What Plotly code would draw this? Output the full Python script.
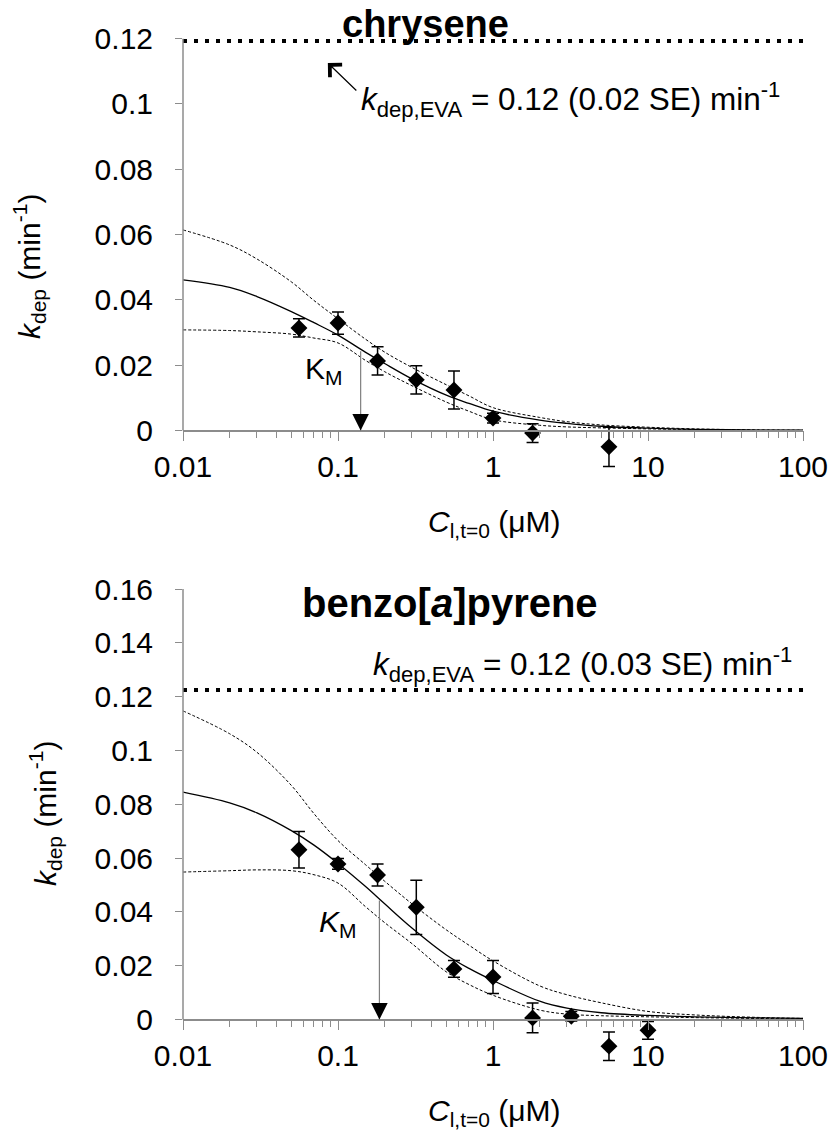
import math
import plotly.graph_objects as go

# ---------------- data: chrysene (top panel) ----------------
chr_conc = [0.056, 0.1, 0.18, 0.32, 0.56, 1.0, 1.8, 5.6]
chr_kdep = [0.0314, 0.0329, 0.0213, 0.0155, 0.0124, 0.0038, -0.0008, -0.0050]
chr_err = [0.0028, 0.0034, 0.0043, 0.0043, 0.0058, 0.0015, 0.0029, 0.0060]

fit_conc = [0.01, 0.02, 0.03, 0.05, 0.07, 0.1, 0.15, 0.2, 0.3, 0.5, 0.7, 1, 2, 3, 5, 10, 20, 50, 100]
chr_fit = [0.0461, 0.0438, 0.0410, 0.0364, 0.0330, 0.0292, 0.0240, 0.0205, 0.0158, 0.0108, 0.0083,
           0.0059, 0.0032, 0.0022, 0.0013, 0.0007, 0.00035, 0.00014, 0.00007]
chr_upper = [0.0614, 0.0568, 0.0525, 0.0455, 0.0398, 0.0342, 0.0280, 0.0240, 0.0193, 0.0140, 0.0106,
             0.0070, 0.0040, 0.0027, 0.0017, 0.0010, 0.0005, 0.0002, 0.0001]
chr_lower = [0.0308, 0.0306, 0.0302, 0.0295, 0.0283, 0.0268, 0.0215, 0.0180, 0.0137, 0.0087, 0.0059,
             0.0033, 0.0016, 0.0011, 0.0008, 0.0005, 0.0003, 0.0001, 0.00005]
chr_eva = 0.1192
chr_km = 0.14
chr_km_k = 0.0247

# ---------------- data: benzo[a]pyrene (bottom panel) ----------------
bap_conc = [0.056, 0.1, 0.18, 0.32, 0.56, 1.0, 1.8, 3.2, 5.6, 10]
bap_kdep = [0.0631, 0.0578, 0.0537, 0.0417, 0.0188, 0.0158, 0.0006, 0.0012, -0.0099, -0.0040]
bap_err = [0.0068, 0.0020, 0.0041, 0.0101, 0.0031, 0.0061, 0.0055, 0.0018, 0.0053, 0.0033]

bap_fit = [0.0845, 0.0805, 0.0768, 0.0702, 0.0648, 0.0580, 0.0495, 0.0430, 0.0340, 0.0240, 0.0190,
           0.0145, 0.0068, 0.0042, 0.0025, 0.0015, 0.0010, 0.0006, 0.0004]
bap_upper = [0.1147, 0.1062, 0.0993, 0.0870, 0.0765, 0.0665, 0.0576, 0.0514, 0.0430, 0.0333, 0.0276,
             0.0218, 0.0125, 0.0092, 0.0062, 0.0030, 0.0017, 0.0008, 0.0004]
bap_lower = [0.0548, 0.0553, 0.0556, 0.0553, 0.0538, 0.0507, 0.0420, 0.0360, 0.0282, 0.0177, 0.0130,
             0.0090, 0.0035, 0.0020, 0.0014, 0.0010, 0.0007, 0.0004, 0.0002]
bap_eva = 0.1225
bap_km = 0.185
bap_km_k = 0.0448

eva_span = [0.01, 100]

x_tickvals = [0.01, 0.1, 1, 10, 100]
x_ticktext = ["0.01", "0.1", "1", "10", "100"]
x_minor = [m * d for d in [0.01, 0.1, 1, 10] for m in range(2, 10)]
y1_tickvals = [0, 0.02, 0.04, 0.06, 0.08, 0.1, 0.12]
y1_ticktext = ["0", "0.02", "0.04", "0.06", "0.08", "0.1", "0.12"]
y2_tickvals = [0, 0.02, 0.04, 0.06, 0.08, 0.1, 0.12, 0.14, 0.16]
y2_ticktext = ["0", "0.02", "0.04", "0.06", "0.08", "0.1", "0.12", "0.14", "0.16"]

# ---------------- figure geometry (page pixels; the page body adds an 8px offset) ----------------
OFF = 8
W, H = 836 - OFF, 1132 - OFF
FONT = "Liberation Sans, Arial, sans-serif"
AXC = "#8c8c8c"


def fx(px):
    return (px - OFF) / W


def fy(py):
    return 1 - (py - OFF) / H


fig = go.Figure()


def add_panel(xa, ya, conc, kdep, err, fit, upper, lower, eva):
    for ys in (upper, lower):
        fig.add_trace(go.Scatter(x=fit_conc, y=ys, mode="lines", xaxis=xa, yaxis=ya,
                                 line=dict(color="black", width=1, dash="3px,2px", shape="spline"),
                                 showlegend=False, hoverinfo="skip"))
    fig.add_trace(go.Scatter(x=fit_conc, y=fit, mode="lines", xaxis=xa, yaxis=ya,
                             line=dict(color="black", width=1.3, shape="spline"),
                             showlegend=False, hoverinfo="skip"))
    fig.add_trace(go.Scatter(x=eva_span, y=[eva, eva], mode="lines", xaxis=xa, yaxis=ya,
                             line=dict(color="black", width=4, dash="4px,7px"),
                             showlegend=False, hoverinfo="skip"))
    fig.add_trace(go.Scatter(x=conc, y=kdep, mode="markers", xaxis=xa, yaxis=ya,
                             marker=dict(symbol="diamond", size=13, color="black"),
                             error_y=dict(type="data", array=err, color="black", thickness=1.5, width=6),
                             cliponaxis=False, showlegend=False))


add_panel("x", "y", chr_conc, chr_kdep, chr_err, chr_fit, chr_upper, chr_lower, chr_eva)
add_panel("x2", "y2", bap_conc, bap_kdep, bap_err, bap_fit, bap_upper, bap_lower, bap_eva)

# panel 1: value 0 at page y 430.5, 0.12 at 38.5 ; panel 2: 0 at 1019.5, 0.16 at 589
p1_zero, p1_top = 430.5, 38.5
p2_zero, p2_top = 1019.5, 589.0
y1_min, y2_min = -0.016, -0.018
p1_bot = p1_zero + (-y1_min) * (p1_zero - p1_top) / 0.12
p2_bot = p2_zero + (-y2_min) * (p2_zero - p2_top) / 0.16

xdom = [fx(183), fx(803)]
y1dom = [fy(p1_bot), fy(p1_top)]
y2dom = [fy(p2_bot), fy(p2_top)]

xcommon = dict(type="log", range=[-2, 2], showline=True, linecolor=AXC, linewidth=1.5,
               ticks="outside", ticklen=10, tickwidth=1.3, tickcolor=AXC,
               tickmode="array", tickvals=x_tickvals, ticktext=x_ticktext,
               minor=dict(tickmode="array", tickvals=x_minor, ticks="outside", ticklen=7,
                          tickwidth=1.3, tickcolor=AXC, showgrid=False),
               showgrid=False, zeroline=False, automargin=False, anchor="free",
               tickfont=dict(family=FONT, size=30, color="black"), ticklabelstandoff=0)
ycommon = dict(showline=False, ticks="outside", ticklen=7,
               tickwidth=1.3, tickcolor=AXC, showgrid=False, zeroline=False, automargin=False,
               tickmode="array", tickfont=dict(family=FONT, size=30, color="black"),
               ticklabelstandoff=16)

fig.update_layout(
    width=W, height=H, margin=dict(l=0, r=0, t=0, b=0),
    paper_bgcolor="white", plot_bgcolor="white",
    font=dict(family=FONT, color="black"),
    xaxis=dict(domain=xdom, position=fy(p1_zero), **xcommon),
    xaxis2=dict(domain=xdom, position=fy(p2_zero), **xcommon),
    yaxis=dict(domain=y1dom, anchor="x", range=[y1_min, 0.12], tickvals=y1_tickvals,
               ticktext=y1_ticktext, **ycommon),
    yaxis2=dict(domain=y2dom, anchor="x2", range=[y2_min, 0.16], tickvals=y2_tickvals,
                ticktext=y2_ticktext, **ycommon),
    shapes=[
        dict(type="line", xref="x domain", yref="y", x0=0, x1=0, y0=0, y1=0.12,
             line=dict(color=AXC, width=1.5)),
        dict(type="line", xref="x2 domain", yref="y2", x0=0, x1=0, y0=0, y1=0.16,
             line=dict(color=AXC, width=1.5)),
    ],
)

ann = []


def text_ann(txt, xpx, ypx, size, xanchor="center", angle=0):
    ann.append(dict(text=txt, x=fx(xpx), y=fy(ypx), xref="paper", yref="paper", xanchor=xanchor,
                    yanchor="middle", showarrow=False, textangle=angle, borderpad=0,
                    font=dict(family=FONT, size=size, color="black")))


# titles
text_ann("<b>chrysene</b>", 425, 24, 38)
text_ann("<b>benzo[<i>a</i>]pyrene</b>", 450, 603, 40)
# EVA labels
text_ann("<i>k</i><sub>dep,EVA</sub> = 0.12 (0.02 SE) min<sup>-1</sup>", 781, 100, 31.5, xanchor="right")
text_ann("<i>k</i><sub>dep,EVA</sub> = 0.12 (0.03 SE) min<sup>-1</sup>", 793, 664, 31.5, xanchor="right")
# axis titles
text_ann("<i>k</i><sub>dep</sub> (min<sup>-1</sup>)", 29, 267, 30, angle=-90)
text_ann("<i>k</i><sub>dep</sub> (min<sup>-1</sup>)", 45, 814, 30, angle=-90)
text_ann("<i>C</i><sub>l,t=0</sub> (μM)", 494, 523, 30)
text_ann("<i>C</i><sub>l,t=0</sub> (μM)", 494, 1112, 30)
# KM labels
text_ann("K<sub>M</sub>", 324, 370, 30)
text_ann("<i>K</i><sub>M</sub>", 338, 923, 30)

# arrow pointing to EVA line (top)
ann.append(dict(x=math.log10(0.086), y=0.1125, xref="x", yref="y", ax=30, ay=29, text="",
                showarrow=True, arrowhead=4, arrowsize=2.8, arrowwidth=1.2, arrowcolor="black"))

# KM arrows
for xr, yr, km, kk, head in (("x", "y", chr_km, chr_km_k, 0.0052), ("x2", "y2", bap_km, bap_km_k, 0.0064)):
    ann.append(dict(x=math.log10(km), y=0, xref=xr, yref=yr, ax=math.log10(km), ay=kk,
                    axref=xr, ayref=yr, text="", showarrow=True, arrowhead=0,
                    arrowwidth=1.2, arrowcolor="#808080"))
    ann.append(dict(x=math.log10(km), y=0, xref=xr, yref=yr, ax=math.log10(km), ay=head,
                    axref=xr, ayref=yr, text="", showarrow=True, arrowhead=2, arrowsize=3.3,
                    arrowwidth=1, arrowcolor="black"))

fig.update_layout(annotations=ann)
fig.write_html("out.html")
